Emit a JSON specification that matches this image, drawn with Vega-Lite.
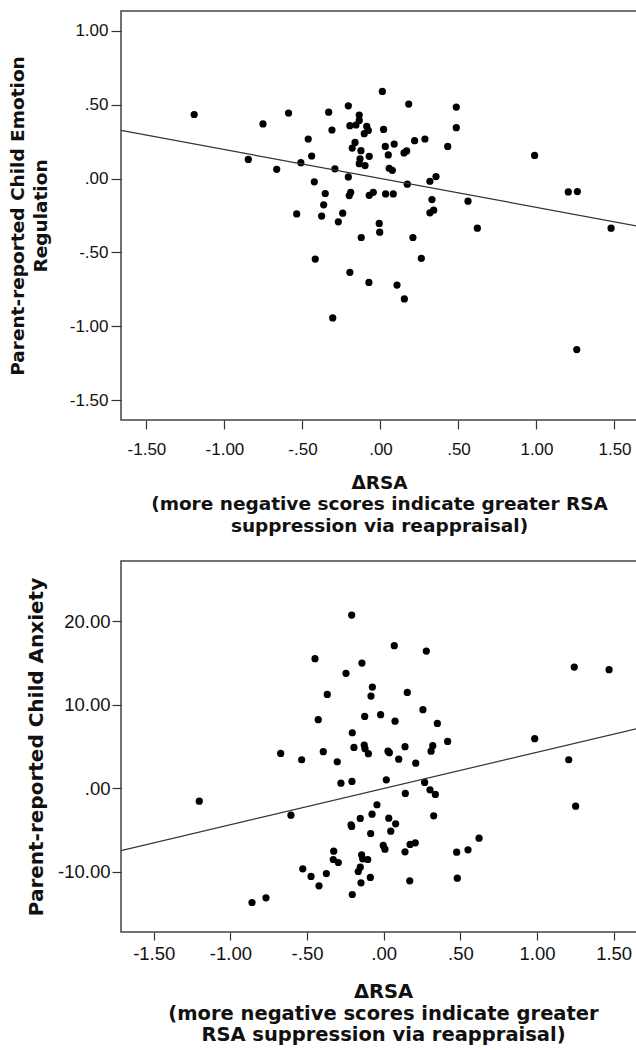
{
  "$schema": "https://vega.github.io/schema/vega-lite/v6.json",
  "padding": {"left": 7, "top": 10, "right": 0, "bottom": 0},
  "background": "white",
  "spacing": 24,
  "config": {
    "view": {"stroke": "#444", "strokeWidth": 1.5},
    "axis": {
      "domain": false,
      "grid": false,
      "tickColor": "#333",
      "tickWidth": 1.2,
      "labelFont": "Liberation Sans",
      "labelColor": "#111",
      "titleFont": "DejaVu Sans",
      "titleFontWeight": "bold",
      "titleColor": "#111"
    }
  },
  "datasets": {
    "er_pts": [
      {"dRSA": -1.194, "er": 0.434}, {"dRSA": -0.753, "er": 0.37}, {"dRSA": -0.589, "er": 0.444},
      {"dRSA": -0.463, "er": 0.268}, {"dRSA": -0.847, "er": 0.13}, {"dRSA": -0.665, "er": 0.063},
      {"dRSA": -0.51, "er": 0.108}, {"dRSA": -0.441, "er": 0.153}, {"dRSA": -0.424, "er": -0.022},
      {"dRSA": -0.537, "er": -0.239}, {"dRSA": -0.418, "er": -0.545},
      {"dRSA": 0.012, "er": 0.59}, {"dRSA": -0.206, "er": 0.493}, {"dRSA": -0.332, "er": 0.45},
      {"dRSA": 0.181, "er": 0.505}, {"dRSA": 0.486, "er": 0.484}, {"dRSA": 0.486, "er": 0.345},
      {"dRSA": -0.136, "er": 0.43}, {"dRSA": -0.196, "er": 0.358}, {"dRSA": -0.136, "er": 0.394},
      {"dRSA": -0.157, "er": 0.363}, {"dRSA": -0.088, "er": 0.353}, {"dRSA": -0.078, "er": 0.326},
      {"dRSA": -0.104, "er": 0.304}, {"dRSA": -0.311, "er": 0.329}, {"dRSA": 0.02, "er": 0.333},
      {"dRSA": -0.163, "er": 0.245}, {"dRSA": -0.181, "er": 0.207}, {"dRSA": -0.125, "er": 0.189},
      {"dRSA": -0.072, "er": 0.151}, {"dRSA": -0.131, "er": 0.133}, {"dRSA": -0.136, "er": 0.101},
      {"dRSA": -0.099, "er": 0.088}, {"dRSA": 0.031, "er": 0.218}, {"dRSA": 0.088, "er": 0.234},
      {"dRSA": 0.05, "er": 0.16}, {"dRSA": 0.151, "er": 0.174}, {"dRSA": 0.168, "er": 0.187},
      {"dRSA": 0.219, "er": 0.257}, {"dRSA": 0.285, "er": 0.268}, {"dRSA": 0.431, "er": 0.218},
      {"dRSA": 0.988, "er": 0.157}, {"dRSA": 0.056, "er": 0.07}, {"dRSA": 0.076, "er": 0.056},
      {"dRSA": -0.292, "er": 0.066}, {"dRSA": -0.206, "er": 0.011}, {"dRSA": 0.172, "er": -0.038},
      {"dRSA": 0.317, "er": -0.018}, {"dRSA": 0.356, "er": 0.014}, {"dRSA": -0.354, "er": -0.101},
      {"dRSA": -0.191, "er": -0.093}, {"dRSA": -0.2, "er": -0.115}, {"dRSA": -0.072, "er": -0.113},
      {"dRSA": -0.046, "er": -0.093}, {"dRSA": 0.033, "er": -0.104}, {"dRSA": 0.082, "er": -0.104},
      {"dRSA": 0.33, "er": -0.142}, {"dRSA": 0.561, "er": -0.153}, {"dRSA": 1.204, "er": -0.09},
      {"dRSA": 1.262, "er": -0.088}, {"dRSA": -0.364, "er": -0.178}, {"dRSA": -0.242, "er": -0.234},
      {"dRSA": -0.377, "er": -0.254}, {"dRSA": 0.317, "er": -0.232}, {"dRSA": 0.341, "er": -0.214},
      {"dRSA": -0.27, "er": -0.293}, {"dRSA": -0.008, "er": -0.304}, {"dRSA": -0.005, "er": -0.363},
      {"dRSA": -0.123, "er": -0.399}, {"dRSA": 0.208, "er": -0.399}, {"dRSA": 0.262, "er": -0.54},
      {"dRSA": -0.196, "er": -0.635}, {"dRSA": -0.074, "er": -0.703}, {"dRSA": 0.106, "er": -0.721},
      {"dRSA": 0.153, "er": -0.815}, {"dRSA": -0.306, "er": -0.944}, {"dRSA": 1.258, "er": -1.158},
      {"dRSA": 1.478, "er": -0.336}, {"dRSA": 0.621, "er": -0.336}
    ],
    "er_fit": [
      {"dRSA": -1.663, "er": 0.326}, {"dRSA": 1.6955, "er": -0.331}
    ],
    "anx_pts": [
      {"dRSA": -0.448, "anx": 15.5}, {"dRSA": -0.427, "anx": 8.19}, {"dRSA": -0.209, "anx": 20.72},
      {"dRSA": 0.069, "anx": 17.05}, {"dRSA": 0.278, "anx": 16.41}, {"dRSA": -0.142, "anx": 14.97},
      {"dRSA": -0.246, "anx": 13.74}, {"dRSA": 1.243, "anx": 14.49}, {"dRSA": 1.47, "anx": 14.18},
      {"dRSA": -0.368, "anx": 11.22}, {"dRSA": -0.074, "anx": 12.1}, {"dRSA": -0.083, "anx": 11.02},
      {"dRSA": 0.154, "anx": 11.46}, {"dRSA": -0.124, "anx": 8.59}, {"dRSA": -0.02, "anx": 8.79},
      {"dRSA": 0.074, "anx": 8.02}, {"dRSA": 0.256, "anx": 9.39}, {"dRSA": 0.35, "anx": 7.75},
      {"dRSA": -0.205, "anx": 6.63}, {"dRSA": 0.985, "anx": 5.92}, {"dRSA": 0.417, "anx": 5.59},
      {"dRSA": -0.394, "anx": 4.36}, {"dRSA": -0.535, "anx": 3.4}, {"dRSA": -0.303, "anx": 3.16},
      {"dRSA": -0.194, "anx": 4.87}, {"dRSA": -0.127, "anx": 5.15}, {"dRSA": -0.122, "anx": 4.72},
      {"dRSA": -0.1, "anx": 4.12}, {"dRSA": 0.028, "anx": 4.43}, {"dRSA": 0.037, "anx": 4.24},
      {"dRSA": 0.139, "anx": 4.96}, {"dRSA": 0.098, "anx": 3.47}, {"dRSA": 0.209, "anx": 2.99},
      {"dRSA": 0.32, "anx": 5.08}, {"dRSA": 0.309, "anx": 4.43}, {"dRSA": 1.207, "anx": 3.4},
      {"dRSA": 1.252, "anx": -2.16}, {"dRSA": -0.279, "anx": 0.6}, {"dRSA": -0.207, "anx": 0.8},
      {"dRSA": 0.017, "anx": 1.0}, {"dRSA": 0.141, "anx": -0.63}, {"dRSA": 0.267, "anx": 0.68},
      {"dRSA": 0.302, "anx": -0.2}, {"dRSA": 0.337, "anx": -0.75}, {"dRSA": -0.044, "anx": -1.99},
      {"dRSA": -0.076, "anx": -3.11}, {"dRSA": -0.153, "anx": -3.63}, {"dRSA": -0.213, "anx": -4.38},
      {"dRSA": -0.209, "anx": -4.59}, {"dRSA": 0.033, "anx": -3.59}, {"dRSA": 0.078, "anx": -4.27},
      {"dRSA": 0.046, "anx": -5.15}, {"dRSA": -0.085, "anx": -5.43}, {"dRSA": 0.326, "anx": -3.31},
      {"dRSA": 0.622, "anx": -5.99}, {"dRSA": 0.55, "anx": -7.38}, {"dRSA": 0.476, "anx": -7.66},
      {"dRSA": 0.48, "anx": -10.78}, {"dRSA": 0.206, "anx": -6.54}, {"dRSA": 0.172, "anx": -6.74},
      {"dRSA": 0.139, "anx": -7.62}, {"dRSA": -0.003, "anx": -6.86}, {"dRSA": 0.008, "anx": -7.31},
      {"dRSA": -0.326, "anx": -7.54}, {"dRSA": -0.329, "anx": -8.54}, {"dRSA": -0.296, "anx": -8.9},
      {"dRSA": -0.144, "anx": -7.98}, {"dRSA": -0.137, "anx": -8.46}, {"dRSA": -0.104, "anx": -8.54},
      {"dRSA": -0.153, "anx": -9.46}, {"dRSA": -0.166, "anx": -9.98}, {"dRSA": -0.087, "anx": -10.69},
      {"dRSA": -0.148, "anx": -11.33}, {"dRSA": -0.205, "anx": -12.73}, {"dRSA": 0.17, "anx": -11.09},
      {"dRSA": -0.374, "anx": -10.22}, {"dRSA": -0.474, "anx": -10.57}, {"dRSA": -0.422, "anx": -11.69},
      {"dRSA": -0.528, "anx": -9.66}, {"dRSA": -1.203, "anx": -1.56}, {"dRSA": -0.672, "anx": 4.16},
      {"dRSA": -0.605, "anx": -3.23}, {"dRSA": -0.859, "anx": -13.69}, {"dRSA": -0.768, "anx": -13.13}
    ],
    "anx_fit": [
      {"dRSA": -1.7136, "anx": -7.48}, {"dRSA": 1.7045, "anx": 7.35}
    ]
  },
  "vconcat": [
    {
      "width": 524,
      "height": 409,
      "layer": [
        {
          "data": {"name": "er_pts"},
          "mark": {"type": "circle", "size": 52, "color": "#000", "opacity": 1},
          "encoding": {
            "x": {
              "field": "dRSA", "type": "quantitative",
              "scale": {"domain": [-1.663, 1.6955], "nice": false, "zero": false},
              "axis": {
                "values": [-1.5, -1, -0.5, 0, 0.5, 1, 1.5],
                "labelExpr": "(datum.value < 0 ? '-' : '') + replace(format(abs(datum.value), '.2f'), regexp('^0[.]'), '.')",
                "labelFontSize": 17, "tickSize": 9, "labelPadding": 12,
                "title": ["ΔRSA", "(more negative scores indicate greater RSA", "suppression via reappraisal)"],
                "titleFontSize": 18.5, "titleLineHeight": 21.5, "titlePadding": 16, "titleX": 258
              }
            },
            "y": {
              "field": "er", "type": "quantitative",
              "scale": {"domain": [-1.635, 1.135], "nice": false, "zero": false},
              "axis": {
                "values": [-1.5, -1, -0.5, 0, 0.5, 1],
                "labelExpr": "(datum.value < 0 ? '-' : '') + replace(format(abs(datum.value), '.2f'), regexp('^0[.]'), '.')",
                "labelFontSize": 17, "tickSize": 10, "labelPadding": 3,
                "title": ["Parent-reported Child Emotion", "Regulation"],
                "titleFontSize": 18.5, "titleLineHeight": 23, "titlePadding": 19
              }
            }
          }
        },
        {
          "data": {"name": "er_fit"},
          "mark": {"type": "line", "color": "#333", "strokeWidth": 1.2, "clip": true},
          "encoding": {
            "x": {"field": "dRSA", "type": "quantitative"},
            "y": {"field": "er", "type": "quantitative"}
          }
        }
      ]
    },
    {
      "width": 524,
      "height": 371,
      "layer": [
        {
          "data": {"name": "anx_pts"},
          "mark": {"type": "circle", "size": 52, "color": "#000", "opacity": 1},
          "encoding": {
            "x": {
              "field": "dRSA", "type": "quantitative",
              "scale": {"domain": [-1.7136, 1.7045], "nice": false, "zero": false},
              "axis": {
                "values": [-1.5, -1, -0.5, 0, 0.5, 1, 1.5],
                "labelExpr": "(datum.value < 0 ? '-' : '') + replace(format(abs(datum.value), '.2f'), regexp('^0[.]'), '.')",
                "labelFontSize": 18.5, "tickSize": 8, "labelPadding": 4,
                "title": ["ΔRSA", "(more negative scores indicate greater", "RSA suppression via reappraisal)"],
                "titleFontSize": 19.5, "titleLineHeight": 21.5, "titlePadding": 20, "titleX": 262
              }
            },
            "y": {
              "field": "anx", "type": "quantitative",
              "scale": {"domain": [-17.22, 27.19], "nice": false, "zero": false},
              "axis": {
                "values": [-10, 0, 10, 20],
                "labelExpr": "(datum.value < 0 ? '-' : '') + replace(format(abs(datum.value), '.2f'), regexp('^0[.]'), '.')",
                "labelFontSize": 18.5, "tickSize": 9, "labelPadding": 2,
                "title": "Parent-reported Child Anxiety",
                "titleFontSize": 20, "titlePadding": 11
              }
            }
          }
        },
        {
          "data": {"name": "anx_fit"},
          "mark": {"type": "line", "color": "#333", "strokeWidth": 1.2, "clip": true},
          "encoding": {
            "x": {"field": "dRSA", "type": "quantitative"},
            "y": {"field": "anx", "type": "quantitative"}
          }
        }
      ]
    }
  ]
}
